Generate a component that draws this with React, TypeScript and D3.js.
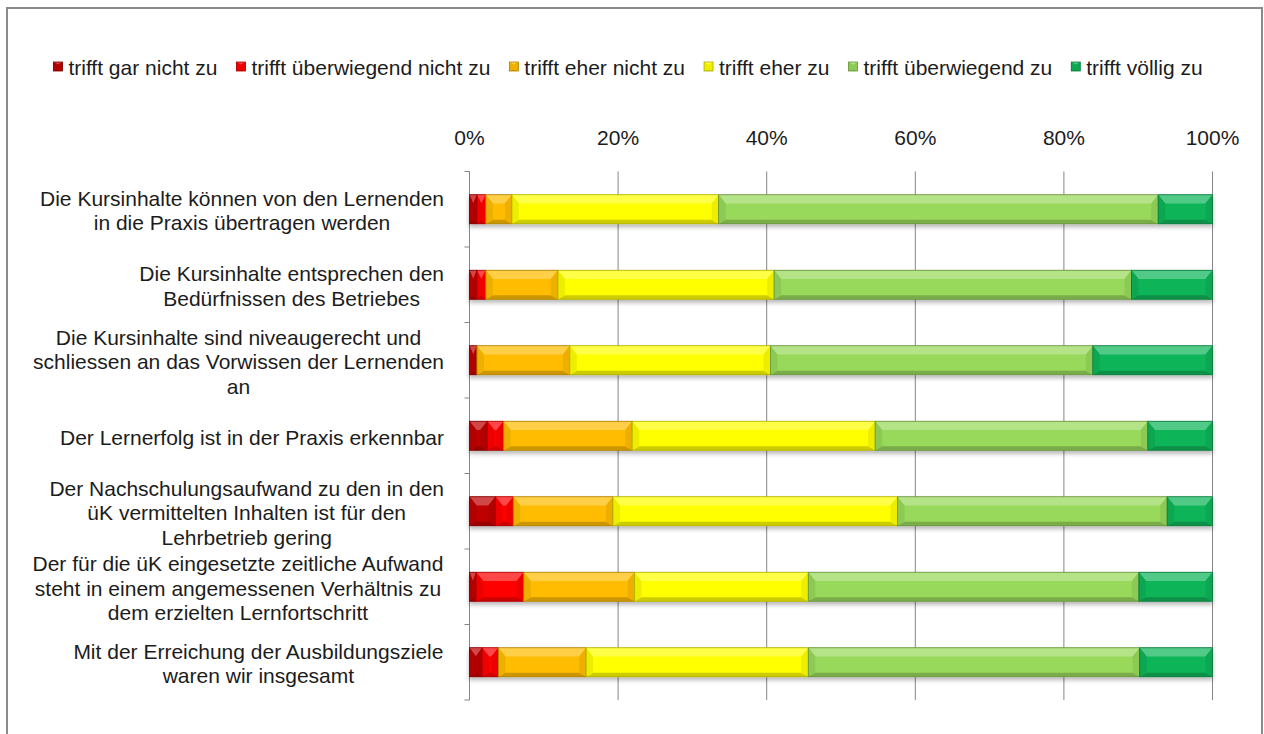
import React, { useEffect, useMemo } from "react";
import * as d3 from "d3";

const categories = [
  "Die Kursinhalte können von den Lernenden\nin die Praxis übertragen werden",
  "Die Kursinhalte entsprechen den\nBedürfnissen des Betriebes",
  "Die Kursinhalte sind niveaugerecht und\nschliessen an das Vorwissen der Lernenden\nan",
  "Der Lernerfolg ist in der Praxis erkennbar",
  "Der Nachschulungsaufwand zu den in den\nüK vermittelten Inhalten ist für den\nLehrbetrieb gering",
  "Der für die üK eingesetzte zeitliche Aufwand\nsteht in einem angemessenen Verhältnis zu\ndem erzielten Lernfortschritt",
  "Mit der Erreichung der Ausbildungsziele\nwaren wir insgesamt",
];

const seriesNames = [
  "trifft gar nicht zu",
  "trifft überwiegend nicht zu",
  "trifft eher nicht zu",
  "trifft eher zu",
  "trifft überwiegend zu",
  "trifft völlig zu",
];

const garNichtZu = [1.0, 1.0, 1.0, 2.4, 3.5, 0.9, 1.7];
const ueberwiegendNichtZu = [1.2, 1.2, 0.0, 2.2, 2.4, 6.4, 2.2];
const eherNichtZu = [3.5, 9.7, 12.5, 17.3, 13.4, 14.9, 11.8];
const eherZu = [27.8, 29.1, 27.0, 32.7, 38.3, 23.4, 29.9];
const ueberwiegendZu = [59.1, 48.1, 43.4, 36.7, 36.3, 44.5, 44.6];
const voelligZu = [7.3, 10.9, 16.1, 8.7, 6.1, 9.9, 9.8];

const seriesValues = [garNichtZu, ueberwiegendNichtZu, eherNichtZu, eherZu, ueberwiegendZu, voelligZu];
const seriesColors = ["#BE0000", "#FF0000", "#FFBC00", "#FFFF00", "#98D85A", "#0EB458"];

const tickValues = [0, 0.2, 0.4, 0.6, 0.8, 1.0];
const tickLabels = ["0%", "20%", "40%", "60%", "80%", "100%"];

const FONT = "'Liberation Sans', Arial, sans-serif";
const FS = 21;
const TEXT = "#1c1c1c";

function BevelRect({ x, y, w, h, color }: { x: number; y: number; w: number; h: number; color: string }) {
  if (w <= 0) return null;
  const bx = Math.min(7, w / 2);
  const bt = Math.min(9, h * 0.3);
  const bb = Math.min(4, h * 0.15);
  const light = d3.interpolateRgb(color, "#ffffff")(0.28);
  const dark = d3.interpolateRgb(color, "#000000")(0.2);
  const side = d3.interpolateRgb(color, "#000000")(0.07);
  const edge = d3.interpolateRgb(color, "#000000")(0.32);
  const pts = (a: number[][]) => a.map((p) => p.join(",")).join(" ");
  return (
    <g>
      <rect x={x} y={y} width={w} height={h} fill={color} />
      <polygon points={pts([[x, y], [x + w, y], [x + w - bx, y + bt], [x + bx, y + bt]])} fill={light} />
      <polygon points={pts([[x, y + h], [x + w, y + h], [x + w - bx, y + h - bb], [x + bx, y + h - bb]])} fill={dark} />
      <polygon points={pts([[x, y], [x + bx, y + bt], [x + bx, y + h - bb], [x, y + h]])} fill={side} />
      <polygon points={pts([[x + w, y], [x + w - bx, y + bt], [x + w - bx, y + h - bb], [x + w, y + h]])} fill={side} />
      <rect x={x} y={y} width={w} height={h} fill="none" stroke={edge} strokeWidth={0.8} />
    </g>
  );
}

export default function App() {
  useEffect(() => {
    document.body.style.margin = "0";
    document.documentElement.style.overflow = "hidden";
  }, []);

  const measure = useMemo(() => {
    const c = document.createElement("canvas");
    const ctx = c.getContext("2d")!;
    ctx.font = `${FS}px ${FONT}`;
    return (s: string) => ctx.measureText(s).width;
  }, []);

  const W = 1264;
  const H = 734;
  const x = d3.scaleLinear().domain([0, 1]).range([469.5, 1212.5]);
  const y = d3
    .scaleBand<string>()
    .domain(categories)
    .range([171.5, 700])
    .paddingInner(0.616)
    .paddingOuter(0.308);

  const rows = categories.map((c, i) => {
    const r: any = { cat: c };
    seriesNames.forEach((s, j) => (r[s] = seriesValues[j][i]));
    return r;
  });
  const stacked = d3.stack<any>().keys(seriesNames).offset(d3.stackOffsetExpand)(rows);

  const step = y.step();
  const boundaries = d3.range(categories.length + 1).map((i) => 171.5 + i * step);

  const markerSize = 9;
  const markerGap = 15;
  const itemGap = 19;
  const widths = seriesNames.map((s) => markerGap + measure(s));
  const total = d3.sum(widths) + itemGap * (seriesNames.length - 1);
  let lx = 628 - total / 2;
  const legendItems = seriesNames.map((s, i) => {
    const item = { name: s, x: lx, color: seriesColors[i] };
    lx += widths[i] + itemGap;
    return item;
  });

  const lineH = 24.5;
  const labelRight = 444;

  return (
    <svg
      width={W}
      height={H}
      style={{ position: "absolute", left: 0, top: 0, background: "#fff" }}
      fontFamily={FONT}
    >
      <defs>
        <filter id="shadow" x="-5%" y="-40%" width="110%" height="200%">
          <feDropShadow dx="0" dy="3" stdDeviation="2" floodColor="#000" floodOpacity="0.28" />
        </filter>
      </defs>
      <rect x={0} y={0} width={W} height={H} fill="#fff" />
      <rect x={7} y={8} width={1255} height={800} fill="#fff" stroke="#8a8a8a" strokeWidth={2} />

      {legendItems.map((it) => (
        <g key={it.name}>
          <BevelRect x={it.x} y={62} w={markerSize} h={markerSize} color={it.color} />
          <text x={it.x + markerGap} y={74.5} fontSize={FS} fill={TEXT}>
            {it.name}
          </text>
        </g>
      ))}

      {tickValues.map((t, i) => (
        <g key={i}>
          <line x1={x(t)} x2={x(t)} y1={171.5} y2={700} stroke="#868686" strokeWidth={1} />
          <text x={x(t)} y={145} fontSize={FS} textAnchor="middle" fill={TEXT}>
            {tickLabels[i]}
          </text>
        </g>
      ))}

      <line x1={x(0)} x2={x(0)} y1={171.5} y2={700} stroke="#868686" strokeWidth={1} />
      {boundaries.map((b, i) => (
        <line key={i} x1={x(0) - 5} x2={x(0)} y1={b} y2={b} stroke="#868686" strokeWidth={1} />
      ))}

      {categories.map((c, ci) => (
        <g key={c} filter="url(#shadow)">
          {stacked.map((layer, si) => {
            const d = layer[ci];
            const x0 = x(d[0]);
            const x1 = x(d[1]);
            return (
              <BevelRect
                key={si}
                x={x0}
                y={y(c)!}
                w={x1 - x0}
                h={y.bandwidth()}
                color={seriesColors[si]}
              />
            );
          })}
        </g>
      ))}

      {categories.map((c) => {
        const lines = c.split("\n");
        const maxW = d3.max(lines, (l) => measure(l)) || 0;
        const cx = labelRight - maxW / 2;
        const cy = y(c)! + y.bandwidth() / 2 + 1.5;
        const startY = cy - ((lines.length - 1) * lineH) / 2;
        return (
          <text key={c} fontSize={FS} textAnchor="middle" fill={TEXT}>
            {lines.map((l, i) => (
              <tspan key={i} x={cx} y={startY + i * lineH} dy="0.35em">
                {l}
              </tspan>
            ))}
          </text>
        );
      })}
    </svg>
  );
}
